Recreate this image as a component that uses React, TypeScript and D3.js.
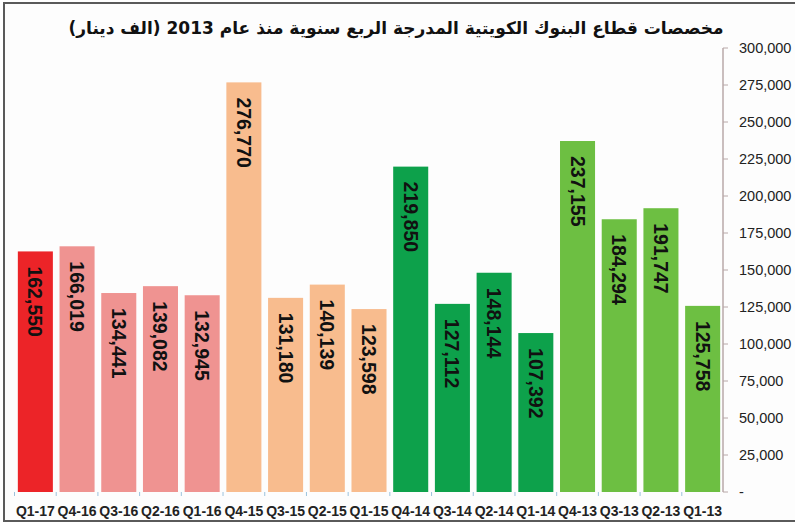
import React from "react";
import * as d3 from "d3";

const categories = ["Q1-17","Q4-16","Q3-16","Q2-16","Q1-16","Q4-15","Q3-15","Q2-15","Q1-15","Q4-14","Q3-14","Q2-14","Q1-14","Q4-13","Q3-13","Q2-13","Q1-13"];
const values = [162550,166019,134441,139082,132945,276770,131180,140139,123598,219850,127112,148144,107392,237155,184294,191747,125758];
const barColors = ["#ec2428","#ef9391","#ef9391","#ef9391","#ef9391","#f8bc8e","#f8bc8e","#f8bc8e","#f8bc8e","#0da14b","#0da14b","#0da14b","#0da14b","#6dbf42","#6dbf42","#6dbf42","#6dbf42"];
const yTicks = [0,25000,50000,75000,100000,125000,150000,175000,200000,225000,250000,275000,300000];
const title = "مخصصات قطاع البنوك الكويتية المدرجة الربع سنوية منذ عام 2013 (الف دينار)";

export default function App() {
  const W = 795, H = 527;
  const x = d3.scaleBand<string>().domain(categories).range([14.5, 723.5]).paddingInner(0.16).paddingOuter(0.08);
  const y = d3.scaleLinear().domain([0, 300000]).range([492, 48]);
  const fmt = d3.format(",");
  const axisX = 723;
  return (
    <svg width={W} height={H} style={{ position: "absolute", left: 0, top: 0, background: "#fff" }}>
      <rect x={0} y={0} width={W} height={H} fill="#ffffff" />
      <rect x={4} y={3} width={W + 10} height={518} fill="#fdfdfd" stroke="#5a5a5a" strokeWidth={2} />
      <text x={396} y={34} textAnchor="middle" direction="rtl" fontFamily="DejaVu Sans" fontWeight="bold" fontSize={17} fill="#111">{title}</text>
      {categories.map((c, i) => {
        const bx = x(c)!;
        const bw = x.bandwidth();
        const top = y(values[i]);
        return (
          <g key={c}>
            <rect x={bx} y={top} width={bw} height={y(0) - top} fill={barColors[i]} />
            <text transform={`translate(${bx + bw / 2},${top + 15}) rotate(90)`} dominantBaseline="central" fontFamily="Liberation Sans, Arial" fontWeight="bold" fontSize={19.5} fill="#111">{fmt(values[i])}</text>
            <text x={bx + bw / 2} y={516} textAnchor="middle" fontFamily="Liberation Sans, Arial" fontWeight="bold" fontSize={14} fill="#222">{c}</text>
          </g>
        );
      })}
      {categories.map((c, i) => (
        <line key={"t" + c} x1={x(c)! - (x.step() - x.bandwidth()) / 2} x2={x(c)! - (x.step() - x.bandwidth()) / 2} y1={492} y2={496} stroke="#9cc3dd" strokeWidth={1} />
      ))}
      <line x1={axisX} x2={axisX} y1={y(300000)} y2={y(0)} stroke="#b8a8a8" strokeWidth={1.5} />
      {yTicks.map((t) => (
        <g key={t}>
          <line x1={axisX} x2={axisX + 5} y1={y(t)} y2={y(t)} stroke="#b8a8a8" strokeWidth={1} />
          <text x={739} y={y(t)} dominantBaseline="central" fontFamily="Liberation Sans, Arial" fontSize={14.5} fill="#222">{t === 0 ? "-" : fmt(t)}</text>
        </g>
      ))}
    </svg>
  );
}
